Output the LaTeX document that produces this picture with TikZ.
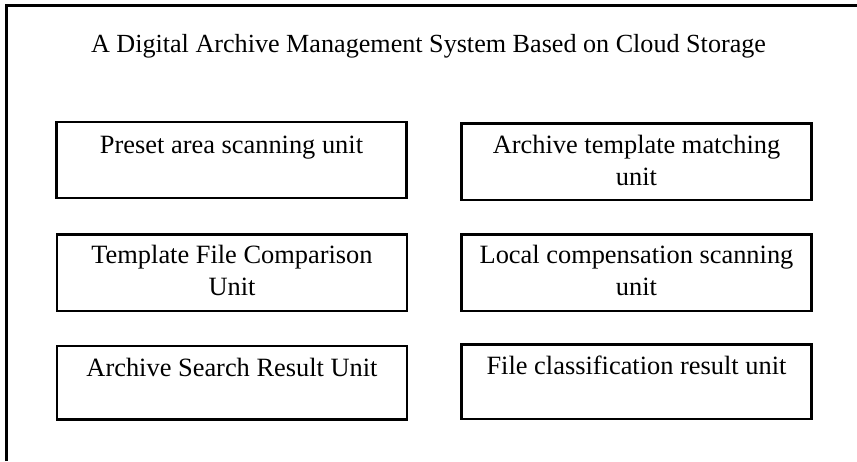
\documentclass[tikz,border=0pt]{standalone}
\usepackage{fontspec}
\setmainfont{Liberation Serif}
\begin{document}
\begin{tikzpicture}[x=0.75pt,y=-0.75pt,
  unitbox/.style={draw, line width=2pt, rectangle, inner sep=0pt,
                  minimum width=262.5pt},
  unitlabel/.style={anchor=base, align=center, inner sep=0pt,
                    font=\fontsize{19.8}{24}\selectfont},
  frameline/.style={line width=1.6pt, line join=miter}]
  \useasboundingbox (0,0) rectangle (857,461);

  % outer frame (only left and top edges fall inside the page)
  \coordinate (fbl) at (6.5,461);
  \coordinate (ftl) at (6.5,5.5);
  \coordinate (ftr) at (857,5.5);
  \draw[frameline] (fbl) -- (ftl) -- (ftr);

  % title
  \node[unitlabel, font=\fontsize{19.6}{23.5}\selectfont] (title) at (428.5,52)
    {A Digital Archive Management System Based on Cloud Storage};

  % left column
  \node[unitbox, minimum height=57pt] (b1) at (231.5,160) {};
  \node[unitbox, minimum height=57.5pt] (b3) at (232,272.5) {};
  \node[unitbox, minimum height=55pt] (b5) at (232,382.5) {};
  % right column
  \node[unitbox, minimum height=57.5pt] (b2) at (636.5,161.5) {};
  \node[unitbox, minimum height=57.5pt] (b4) at (636.5,272.5) {};
  \node[unitbox, minimum height=56pt] (b6) at (636.5,381.5) {};

  % unit labels (base anchor sits on the last line)
  \node[unitlabel] (t1) at (231.5,153) {Preset area scanning unit};
  \node[unitlabel] (t3) at (232,295) {Template File Comparison\\Unit};
  \node[unitlabel] (t5) at (232,376.5) {Archive Search Result Unit};
  \node[unitlabel] (t2) at (636.5,185) {Archive template matching\\unit};
  \node[unitlabel] (t4) at (636.5,295) {Local compensation scanning\\unit};
  \node[unitlabel] (t6) at (636.5,374) {File classification result unit};
\end{tikzpicture}
\end{document}
